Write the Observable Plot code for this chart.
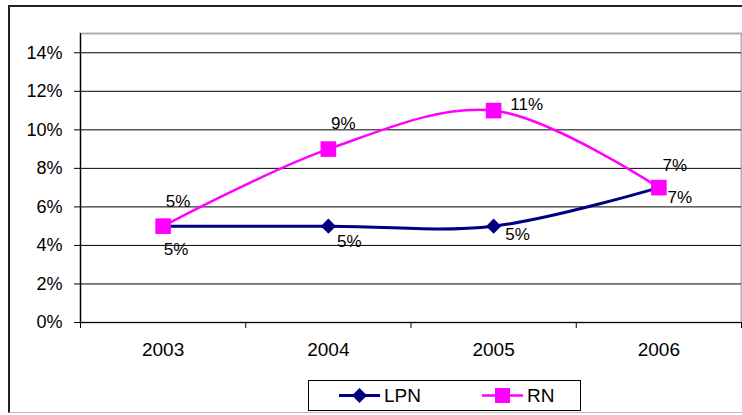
<!DOCTYPE html>
<html><head><meta charset="utf-8">
<script src="https://cdn.jsdelivr.net/npm/d3@7"></script>
<script src="https://cdn.jsdelivr.net/npm/@observablehq/plot@0.6"></script>
<style>
body{margin:0;background:#fff;}
#wrap{position:relative;width:742px;height:415px;overflow:hidden;font-family:"Liberation Sans",Arial,sans-serif;background:#fff;}
#frame{position:absolute;left:8px;top:5px;width:800px;height:405px;border:2px solid #222;border-bottom:1px solid #bbb;box-sizing:content-box;}
#chart{position:absolute;left:0;top:0;}
#legend{position:absolute;left:308px;top:380px;width:271px;height:29px;border:1px solid #000;background:#fff;font-size:19px;color:#000;}
.item{position:absolute;top:0;height:29px;display:flex;align-items:center;}
.item svg{display:block;}
.item span{margin-left:4px;}
</style>
</head><body>
<div id="wrap"><div id="frame"></div><div id="chart"></div><div id="legend"></div></div>
<script>
const years = [2003, 2004, 2005, 2006];
const lpn = [0.05, 0.05, 0.05, 0.07];
const rn = [0.05, 0.09, 0.11, 0.07];
const yTicks = [0, 0.02, 0.04, 0.06, 0.08, 0.10, 0.12, 0.14];
const seriesNames = ["LPN", "RN"];
const seriesColors = ["#000080", "#FF00FF"];

// label offsets (styling, pixels)
const lpnLabelOffsets = [[13, 23], [21, 15], [24, 8], [21, 10]];
const rnLabelOffsets = [[15, -25], [15, -26], [33, -6], [16, -22]];

const lpnData = years.map((y, i) => ({year: y, v: lpn[i]}));
const rnData = years.map((y, i) => ({year: y, v: rn[i]}));
const bounds = years.map(y => y - 0.5).concat([years[years.length - 1] + 0.5]);
const pct = d3.format(".0%");

const labelMarks = (data, offsets) => data.map((d, i) =>
  Plot.text([d], {x: "year", y: "v", text: d => pct(d.v), dx: offsets[i][0], dy: offsets[i][1], fontSize: 17, fill: "#000"}));

const chart = Plot.plot({
  width: 742,
  height: 415,
  marginLeft: 80,
  marginRight: 1,
  marginTop: 33,
  marginBottom: 93,
  style: {fontFamily: "'Liberation Sans', Arial, sans-serif", background: "transparent", overflow: "visible"},
  x: {type: "linear", domain: [bounds[0], bounds[bounds.length - 1]]},
  y: {domain: [0, 0.15]},
  marks: [
    Plot.frame({stroke: "#b0b0b0", strokeWidth: 2}),
    Plot.ruleY(yTicks, {stroke: "#000", strokeWidth: 1}),
    Plot.ruleX([bounds[0]], {stroke: "#000", strokeWidth: 1.2}),
    Plot.axisY({ticks: yTicks, tickFormat: pct, tickSize: 6, tickPadding: 12, fontSize: 18, label: null}),
    Plot.axisX({ticks: bounds, tickFormat: () => "", tickSize: 6, label: null}),
    Plot.axisX({ticks: years, tickFormat: d => String(d), tickSize: 0, tickPadding: 20, fontSize: 19, label: null}),
    Plot.line(lpnData, {x: "year", y: "v", stroke: seriesColors[0], strokeWidth: 3, curve: "catmull-rom"}),
    Plot.dot(lpnData, {x: "year", y: "v", symbol: "diamond2", r: 6.8, fill: seriesColors[0], stroke: "none"}),
    Plot.line(rnData, {x: "year", y: "v", stroke: seriesColors[1], strokeWidth: 2.5, curve: "catmull-rom"}),
    Plot.dot(rnData, {x: "year", y: "v", symbol: "square", r: 8.8, fill: seriesColors[1], stroke: "none"}),
    ...labelMarks(rnData, rnLabelOffsets),
    ...labelMarks(lpnData, lpnLabelOffsets)
  ]
});
document.getElementById("chart").appendChild(chart);

// legend
const legend = document.getElementById("legend");
const itemLefts = [30, 173];
seriesNames.forEach((name, i) => {
  const item = document.createElement("div");
  item.className = "item";
  item.style.left = itemLefts[i] + "px";
  const marker = i === 0
    ? `<polygon points="20.5,7 28,14.5 20.5,22 13,14.5" fill="${seriesColors[0]}"/>`
    : `<rect x="13" y="7" width="15" height="15" fill="${seriesColors[1]}"/>`;
  item.innerHTML = `<svg width="41" height="29"><line x1="0" x2="41" y1="14.5" y2="14.5" stroke="${seriesColors[i]}" stroke-width="${i === 0 ? 3 : 2.5}"/>${marker}</svg><span>${name}</span>`;
  legend.appendChild(item);
});
</script>
</body></html>
